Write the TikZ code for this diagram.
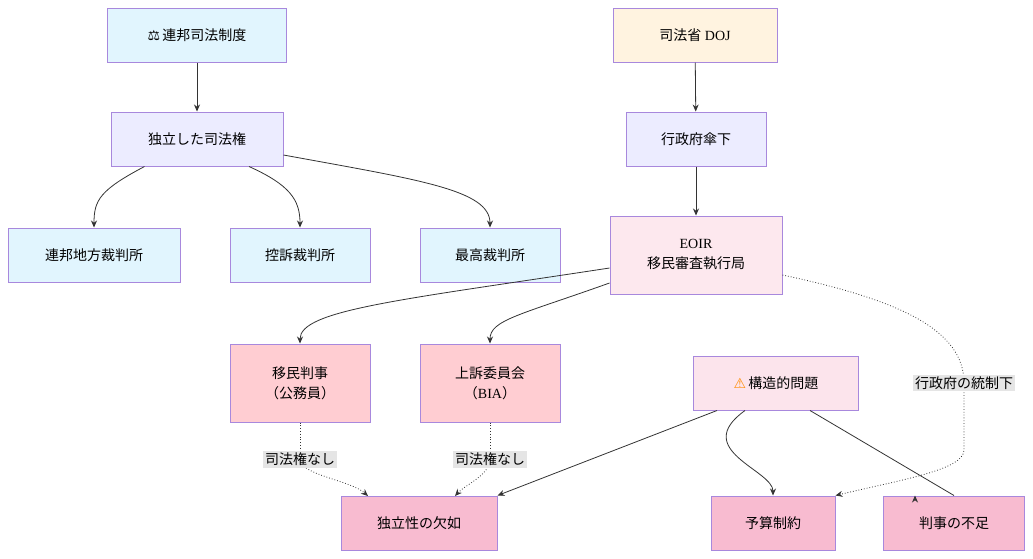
\documentclass[tikz,border=0pt]{standalone}
\usepackage{fontspec}
\setmainfont{Liberation Serif}
\newfontfamily\jp{Noto Sans CJK JP}
\newfontfamily\sym{DejaVu Sans}
\usetikzlibrary{arrows.meta}
\definecolor{bd}{HTML}{A888DD}
\definecolor{cblue}{HTML}{E1F5FE}
\definecolor{corange}{HTML}{FFF3E0}
\definecolor{clav}{HTML}{ECECFF}
\definecolor{cpinkl}{HTML}{FDE8EE}
\definecolor{cpink}{HTML}{FFCDD2}
\definecolor{cprob}{HTML}{FCE4EC}
\definecolor{cbot}{HTML}{F8BBD0}
\definecolor{ln}{HTML}{333333}
\begin{document}
\begin{tikzpicture}[x=1pt,y=-1pt,
 box/.style={draw=bd,line width=1pt,minimum height=54pt,align=center,font=\fontsize{14}{20}\selectfont,inner sep=0pt},
 tall/.style={minimum height=78pt},
 arr/.style={draw=ln,line width=0.8pt,-{Stealth[length=7pt,width=6pt]}},
 dot/.style={arr,dotted},
 lab/.style={fill=black!10,font=\fontsize{14}{16}\selectfont\jp,inner sep=2pt}]
\useasboundingbox (0,0) rectangle (1033,558);
\node[box,fill=cblue,minimum width=179pt] (fed) at (197,35) {{\sym ⚖}\,{\jp 連邦司法制度}};
\node[box,fill=corange,minimum width=164pt] (doj) at (695,35) {{\jp 司法省} DOJ};
\node[box,fill=clav,minimum width=172pt] (ind) at (197,139) {\jp 独立した司法権};
\node[box,fill=clav,minimum width=140pt] (exe) at (696,139) {\jp 行政府傘下};
\node[box,fill=cblue,minimum width=172pt] (dist) at (94,255) {\jp 連邦地方裁判所};
\node[box,fill=cblue,minimum width=140pt] (app) at (300,255) {\jp 控訴裁判所};
\node[box,fill=cblue,minimum width=140pt] (sup) at (490,255) {\jp 最高裁判所};
\node[box,tall,fill=cpinkl,minimum width=172pt] (eoir) at (696,255) {EOIR\\{\jp 移民審査執行局}};
\node[box,tall,fill=cpink,minimum width=140pt] (ij) at (300,383) {{\jp 移民判事}\\{\jp （公務員）}};
\node[box,tall,fill=cpink,minimum width=140pt] (bia) at (490,383) {{\jp 上訴委員会}\\{\jp （}BIA{\jp ）}};
\node[box,fill=cprob,minimum width=165pt] (prob) at (776,383) {{\sym\color{orange!90!yellow}⚠}\,{\jp 構造的問題}};
\node[box,fill=cbot,minimum width=156pt] (lack) at (419,523) {\jp 独立性の欠如};
\node[box,fill=cbot,minimum width=124pt] (bud) at (773,523) {\jp 予算制約};
\node[box,fill=cbot,minimum width=141pt] (short) at (954,523) {\jp 判事の不足};
\coordinate (c1) at (300,459);
\coordinate (c2) at (490,459);
\coordinate (c3) at (964,383);
\draw[arr] (fed) -- (ind);
\draw[arr] (doj) -- (exe);
\draw[arr] (exe) -- (eoir);
\draw[arr] (ind.south west)++(34,0) .. controls (100,190) and (94,200) .. (dist.north);
\draw[arr] (ind.south)++(52,0) .. controls (290,185) and (300,200) .. (app.north);
\draw[arr] (ind.east)++(0,16) .. controls (420,180) and (490,190) .. (sup.north);
\draw[arr] (eoir.west)++(0,13) .. controls (400,300) and (300,310) .. (ij.north);
\draw[arr] (eoir.west)++(0,28) .. controls (520,315) and (490,320) .. (bia.north);
\draw[arr] (prob.south west)++(24,0) -- (lack.north east);
\draw[arr] (prob.south)++(-31,0) .. controls (690,450) and (773,470) .. (bud.north);
\draw[arr] (prob.south)++(34,0) -- (short.north)++(-39,0);
\draw[dot] (eoir.east)++(0,20) .. controls (900,300) and (964,330) .. (c3) -- (964,450) .. controls (964,470) and (900,480) .. (bud.north east);
\node[lab] at (c3) {行政府の統制下};
\draw[dotted,draw=ln,line width=0.8pt] (ij.south) -- (c1);
\draw[dot] (c1) .. controls (300,475) and (350,480) .. (368,496);
\node[lab] at (c1) {司法権なし};
\draw[dotted,draw=ln,line width=0.8pt] (bia.south) -- (c2);
\draw[dot] (c2) .. controls (490,475) and (465,485) .. (455,496);
\node[lab] at (c2) {司法権なし};
\end{tikzpicture}
\end{document}
